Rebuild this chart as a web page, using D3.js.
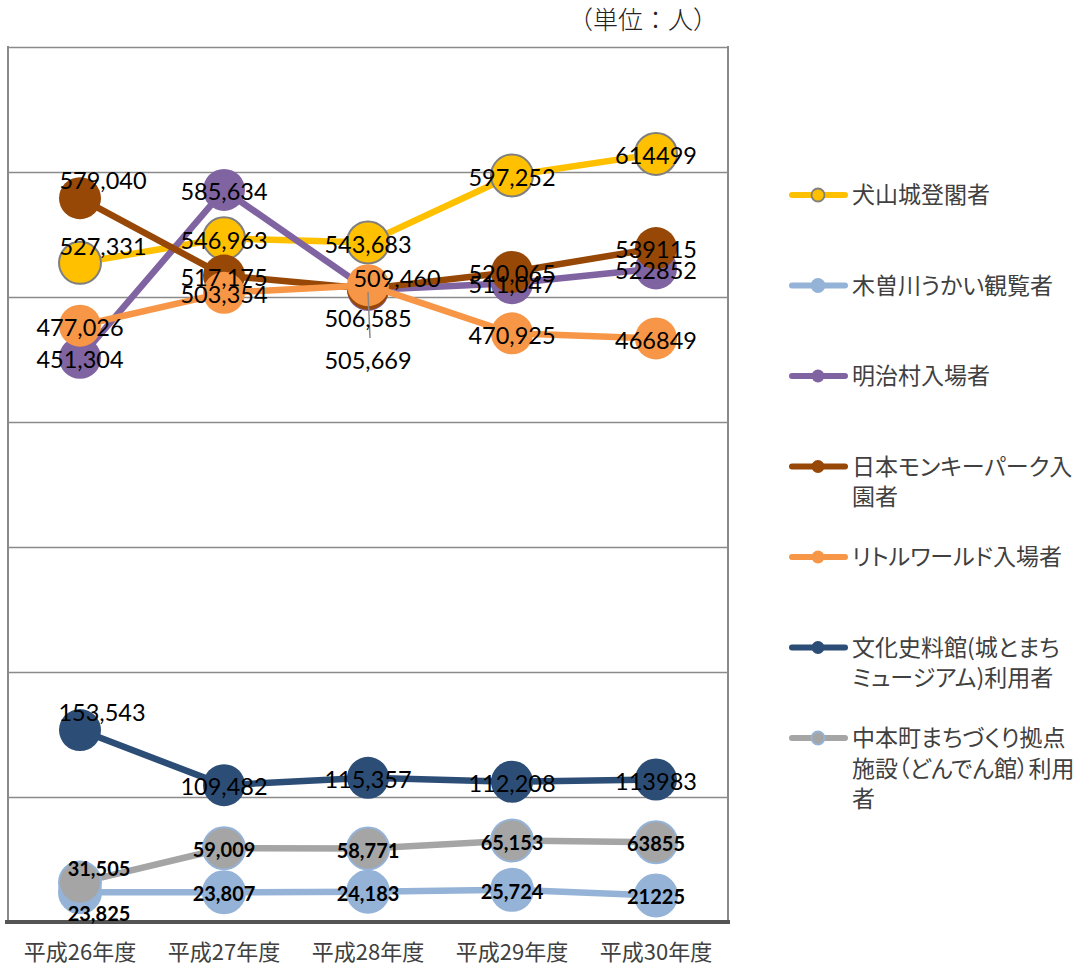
<!DOCTYPE html>
<html><head><meta charset="utf-8">
<script src="https://cdn.jsdelivr.net/npm/d3@7"></script>
<style>body{margin:0;background:#fff}svg{display:block}</style>
</head><body>
<svg id="chart" width="1089" height="966"></svg>
<script>
// ---- data ----
const categories = ["平成26年度","平成27年度","平成28年度","平成29年度","平成30年度"];
const inuyamaCastle = [527331,546963,543683,597252,614499];
const kisogawaUkai  = [23825,23807,24183,25724,21225];
const meijiMura     = [451304,585634,505669,511047,522852];
const monkeyPark    = [579040,517175,506585,520065,539115];
const littleWorld   = [477026,503354,509460,470925,466849];
const bunkaShiryokan= [153543,109482,115357,112208,113983];
const nakahonmachi  = [31505,59009,58771,65153,63855];
const seriesNames = [
  ["犬山城登閣者"],
  ["木曽川うかい観覧者"],
  ["明治村入場者"],
  ["日本モンキーパーク入","園者"],
  ["リトルワールド入場者"],
  ["文化史料館(城とまち","ミュージアム)利用者"],
  ["中本町まちづくり拠点","施設（どんでん館）利用","者"]
];
const labelUsesComma = [true,true,true,true,false];
const yTicks = [100000,200000,300000,400000,500000,600000,700000];
const unitLabel = "（単位：人）";

// ---- styles ----
const seriesValues = [inuyamaCastle,kisogawaUkai,meijiMura,monkeyPark,littleWorld,bunkaShiryokan,nakahonmachi];
const seriesStyle = [
  {color:"#FFC000", mStroke:"#7F7F7F", bold:false},
  {color:"#95B3D7", mStroke:"#95B3D7", bold:true},
  {color:"#8064A2", mStroke:null, bold:false},
  {color:"#974706", mStroke:null, bold:false},
  {color:"#F79646", mStroke:null, bold:false},
  {color:"#2C4D75", mStroke:null, bold:false},
  {color:"#A5A5A5", mStroke:"#95B3D7", bold:true}
];
// label shifts (px) for individually moved data labels: "series-point"
const labelShift = {"0-0":[23,-18],"3-0":[23,-19],"4-2":[29,-8],"3-2":[0,28],"2-2":[0,69],
                    "5-0":[22,-19],"6-0":[19,-16],"1-0":[19,20]};
const leaderLines = {"2-2":true};

const plot = {left:8,right:728,top:47,bottom:922};
const svg = d3.select("#chart");
const x = d3.scaleBand().domain(categories).range([plot.left,plot.right]);
const cx = c => x(c) + x.bandwidth()/2;
const y = d3.scaleLinear().domain([0,700000]).range([plot.bottom,plot.top]);

// grid
svg.append("g").attr("transform",`translate(${plot.left},0)`)
  .call(d3.axisLeft(y).tickValues(yTicks).tickSize(-(plot.right-plot.left)).tickFormat(""))
  .call(g=>g.select(".domain").remove())
  .call(g=>g.selectAll("line").attr("stroke","#8A8A8A").attr("stroke-width",1.6));
// left/right frame
svg.append("line").attr("x1",plot.left).attr("x2",plot.left).attr("y1",plot.top-1).attr("y2",plot.bottom)
  .attr("stroke","#8A8A8A").attr("stroke-width",2);
svg.append("line").attr("x1",plot.right).attr("x2",plot.right).attr("y1",plot.top-1).attr("y2",plot.bottom)
  .attr("stroke","#8A8A8A").attr("stroke-width",2);

// x axis
svg.append("g").attr("transform",`translate(0,${plot.bottom})`)
  .call(d3.axisBottom(x).tickSize(0).tickSizeOuter(0))
  .call(g=>g.select(".domain").attr("stroke","#555").attr("stroke-width",4).attr("d",`M${plot.left-3},0H${plot.right+2}`))
  .call(g=>g.selectAll("text").attr("y",30).attr("dy","0.35em")
     .attr("font-family","'Noto Sans CJK JP'").attr("font-size",22).attr("fill","#404040"));

// unit
svg.append("text").attr("x",643).attr("y",20).attr("dy","0.35em").attr("text-anchor","middle")
  .attr("font-family","'Noto Sans CJK JP'").attr("font-size",25).attr("font-weight",300)
  .attr("fill","#222").text(unitLabel);

// series
const line = d3.line().x((d,i)=>cx(categories[i])).y(d=>y(d));
seriesValues.forEach((vals,s)=>{
  const st = seriesStyle[s];
  const g = svg.append("g");
  g.append("path").datum(vals).attr("d",line).attr("fill","none")
    .attr("stroke",st.color).attr("stroke-width",6.5).attr("stroke-linejoin","round");
  g.selectAll("circle").data(vals).join("circle")
    .attr("cx",(d,i)=>cx(categories[i])).attr("cy",d=>y(d)).attr("r",21)
    .attr("fill",st.color)
    .attr("stroke",st.mStroke||"none").attr("stroke-width",st.mStroke?2:0);
});

// labels
const labels = svg.append("g");
seriesValues.forEach((vals,s)=>{
  const st = seriesStyle[s];
  vals.forEach((v,i)=>{
    const key = `${s}-${i}`;
    const sh = labelShift[key]||[0,0];
    const px = cx(categories[i]), py = y(v);
    if(leaderLines[key]){
      labels.append("line").attr("x1",px).attr("y1",py+2).attr("x2",px+2).attr("y2",py+sh[1]-21)
        .attr("stroke","#888").attr("stroke-width",1.5);
    }
    labels.append("text").attr("x",px+sh[0]).attr("y",py+sh[1]+2).attr("dy","0.35em")
      .attr("text-anchor","middle")
      .attr("font-family","Lato, 'Open Sans', sans-serif")
      .attr("font-size",st.bold?20:23.5).attr("font-weight",st.bold?700:400)
      .attr("fill","#000")
      .text(labelUsesComma[i]?d3.format(",")(v):d3.format("d")(v));
  });
});

// legend
const legend = svg.append("g");
seriesNames.forEach((lines,s)=>{
  const st = seriesStyle[s];
  const ry = 195 + s*90.5;
  const g = legend.append("g").attr("transform",`translate(0,${ry})`);
  g.append("line").attr("x1",792).attr("x2",845).attr("y1",0).attr("y2",0)
    .attr("stroke",st.color).attr("stroke-width",6).attr("stroke-linecap","round");
  g.append("circle").attr("cx",818).attr("cy",0).attr("r",6.5).attr("fill",st.color)
    .attr("stroke",st.mStroke||"none").attr("stroke-width",st.mStroke?1.8:0);
  const t = g.append("text").attr("font-family","'Noto Sans CJK JP'").attr("font-size",23)
    .attr("fill","#404040").style("font-feature-settings","'palt'");
  lines.forEach((ln,k)=>{
    t.append("tspan").attr("x",852).attr("y",k*30.5).attr("dy","0.35em").text(ln);
  });
});
</script>
</body></html>
